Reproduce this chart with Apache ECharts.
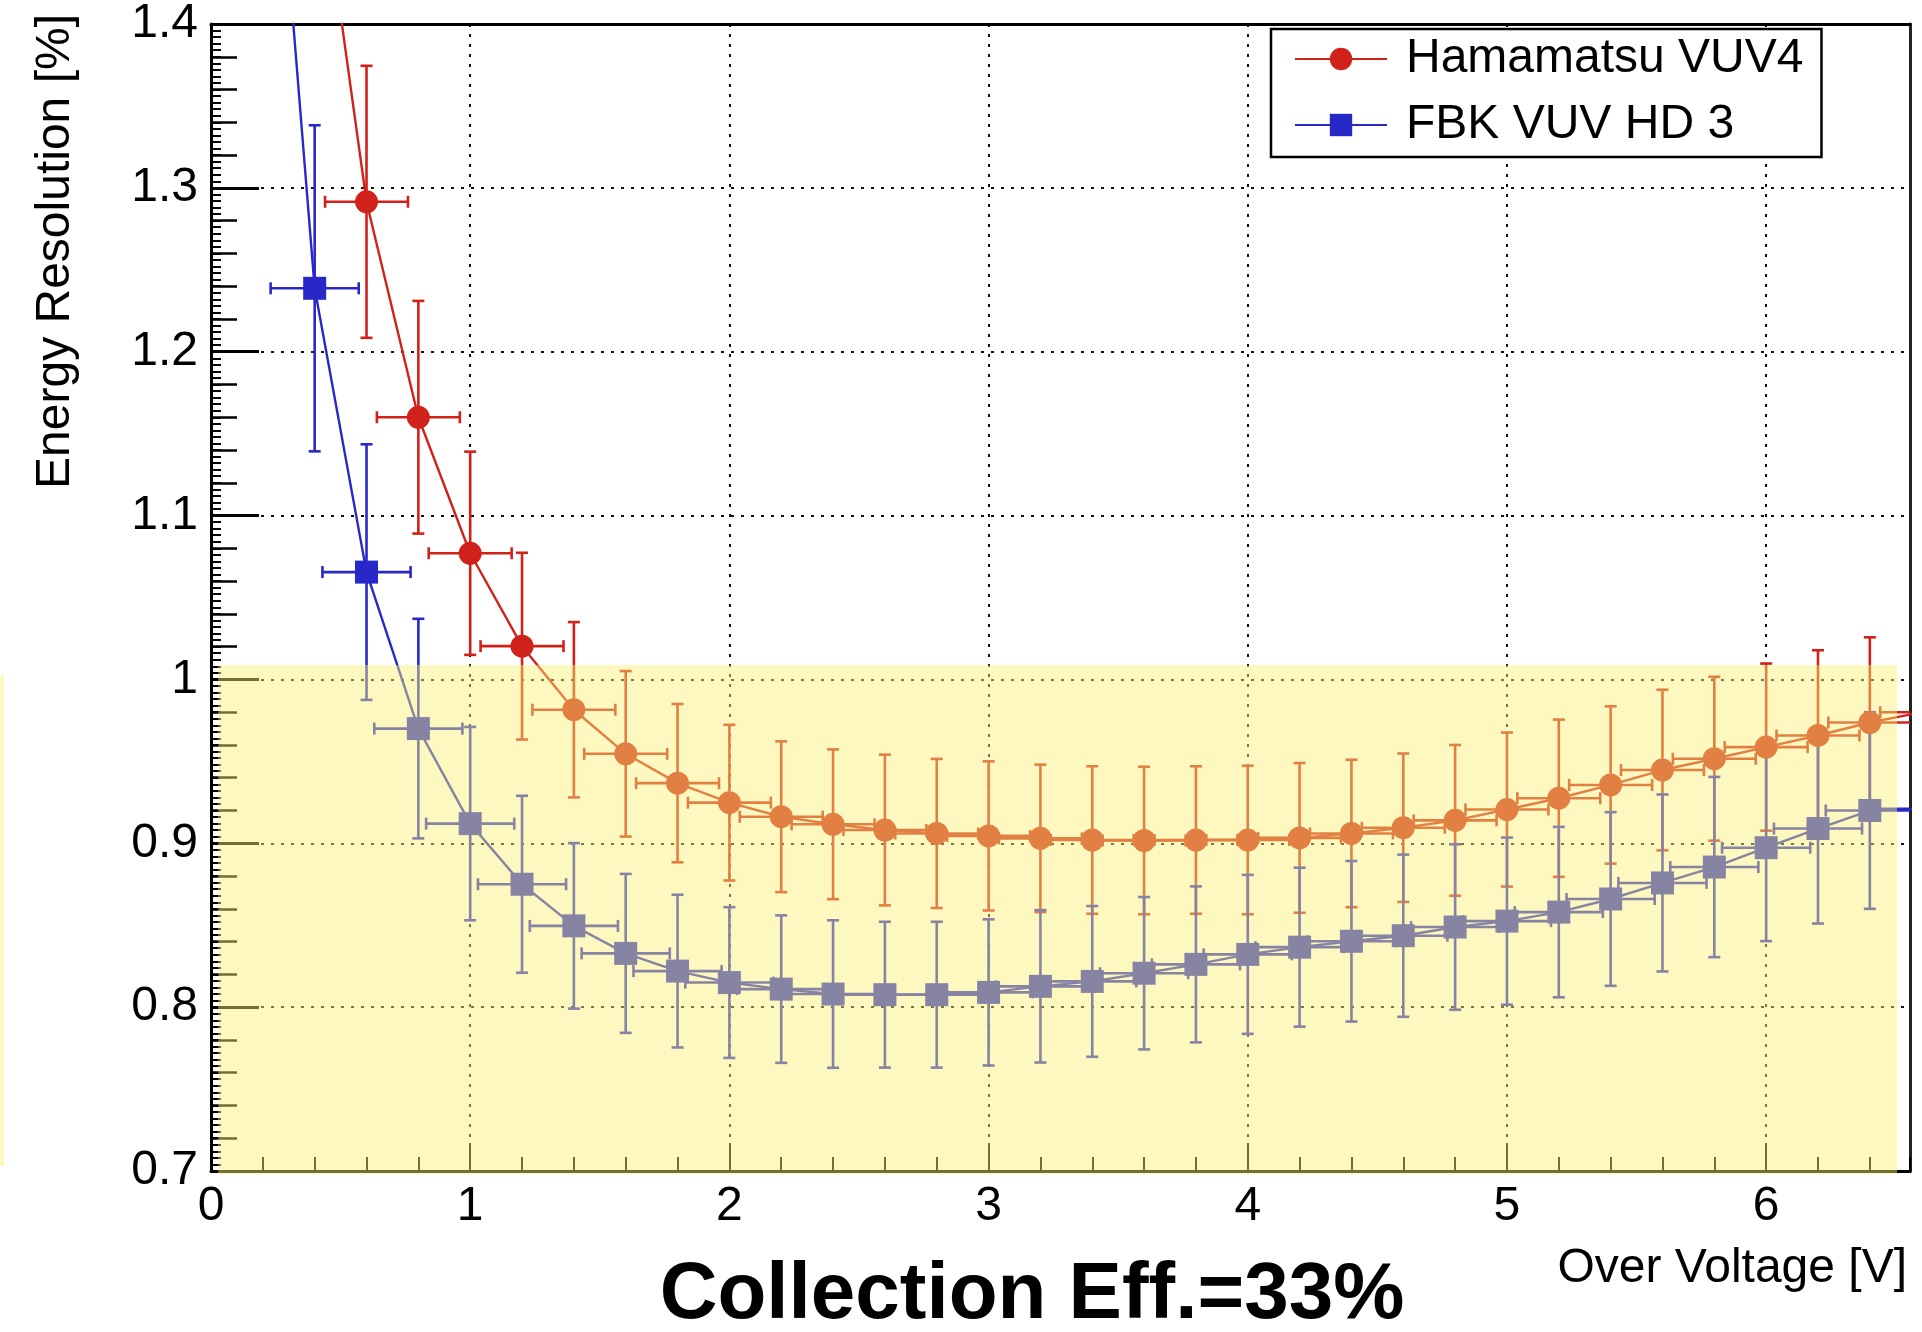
<!DOCTYPE html>
<html><head><meta charset="utf-8">
<script src="https://cdn.jsdelivr.net/npm/echarts@6/dist/echarts.min.js"></script>
<style>html,body{margin:0;padding:0;background:#fff}#c{width:1922px;height:1332px}</style>
</head><body><div id="c"></div>
<script>
// ---- data ----
const hamX = [0.4,0.6,0.8,1.0,1.2,1.4,1.6,1.8,2.0,2.2,2.4,2.6,2.8,3.0,3.2,3.4,3.6,3.8,4.0,4.2,4.4,4.6,4.8,5.0,5.2,5.4,5.6,5.8,6.0,6.2,6.4,6.6];
const hamY = [1.52,1.2915,1.160,1.077,1.0203,0.9815,0.9546,0.9367,0.9248,0.9162,0.9116,0.9081,0.906,0.9045,0.903,0.902,0.9017,0.902,0.902,0.9033,0.906,0.9095,0.914,0.9206,0.9275,0.9356,0.9447,0.9516,0.9587,0.9658,0.9737,0.980];
const hamErr = [0.10,0.083,0.071,0.062,0.057,0.0535,0.0505,0.0483,0.0475,0.046,0.0457,0.046,0.0455,0.0455,0.045,0.045,0.045,0.045,0.0453,0.0457,0.045,0.0453,0.046,0.047,0.048,0.048,0.049,0.050,0.051,0.052,0.052,0.053];
const hamXErr = 0.16;

const fbkX = [0.2,0.4,0.6,0.8,1.0,1.2,1.4,1.6,1.8,2.0,2.2,2.4,2.6,2.8,3.0,3.2,3.4,3.6,3.8,4.0,4.2,4.4,4.6,4.8,5.0,5.2,5.4,5.6,5.8,6.0,6.2,6.4,6.6];
const fbkY = [1.63,1.2387,1.0655,0.970,0.912,0.875,0.8496,0.8328,0.822,0.815,0.811,0.808,0.8076,0.8076,0.809,0.8127,0.8157,0.8207,0.8261,0.8322,0.8366,0.8402,0.8436,0.8489,0.8525,0.858,0.866,0.8758,0.8855,0.8973,0.909,0.920,0.921];
const fbkErr = [0.12,0.0995,0.078,0.067,0.059,0.054,0.0505,0.0485,0.0466,0.046,0.045,0.045,0.0445,0.0445,0.0446,0.0465,0.046,0.0465,0.0476,0.0485,0.0485,0.049,0.0495,0.0505,0.051,0.052,0.053,0.054,0.055,0.057,0.058,0.060,0.061];
const fbkXErr = 0.17;

const seriesNames = ['Hamamatsu VUV4', 'FBK VUV HD 3'];
const xRange = [0, 6.555];
const yRange = [0.7, 1.4];
const highlightX = [0.028, 6.505];
const highlightY = [0.698, 1.0088];
const titleText = 'Collection Eff.=33%';
const xTitle = 'Over Voltage [V]';
const yTitle = 'Energy Resolution [%]';

// ---- styles ----
const RED = '#D0221A', BLUE = '#2828C8';
const OVERLAY = 'rgba(248,240,118,0.46)';
const FONT = '"Liberation Sans", Arial, Helvetica, sans-serif';
const FS = 48;

function pts(xs, ys) { return xs.map((x, i) => [x, ys[i]]); }
function errData(xs, ys, es, xe) { return xs.map((x, i) => [x, ys[i], es[i], xe]); }

function errRender(color) {
  return function (params, api) {
    const x = api.value(0), y = api.value(1), ye = api.value(2), xe = api.value(3);
    const t = api.coord([x, y + ye]);
    const b = api.coord([x, y - ye]);
    const l = api.coord([x - xe, y]);
    const r = api.coord([x + xe, y]);
    const cap = 6;
    const style = { stroke: color, lineWidth: 2.6, fill: null };
    return { type: 'group', children: [
      { type: 'line', shape: { x1: t[0], y1: t[1], x2: b[0], y2: b[1] }, style },
      { type: 'line', shape: { x1: t[0] - cap, y1: t[1], x2: t[0] + cap, y2: t[1] }, style },
      { type: 'line', shape: { x1: b[0] - cap, y1: b[1], x2: b[0] + cap, y2: b[1] }, style },
      { type: 'line', shape: { x1: l[0], y1: l[1], x2: r[0], y2: r[1] }, style },
      { type: 'line', shape: { x1: l[0], y1: l[1] - cap, x2: l[0], y2: l[1] + cap }, style },
      { type: 'line', shape: { x1: r[0], y1: r[1] - cap, x2: r[0], y2: r[1] + cap }, style }
    ]};
  };
}

const gridDots = { show: true, lineStyle: { color: '#111', width: 2, type: [3, 7] } };

const chart = echarts.init(document.getElementById('c'), null, { renderer: 'canvas' });
chart.setOption({
  animation: false,
  backgroundColor: '#fff',
  textStyle: { fontFamily: FONT },
  grid: { left: 211, right: 12, top: 14, bottom: 161, containLabel: false },
  legend: {
    data: seriesNames,
    orient: 'vertical',
    left: 1271, top: 29,
    padding: [6, 18, 8, 23],
    itemGap: 18,
    itemWidth: 92, itemHeight: 28,
    borderColor: '#000', borderWidth: 2.5,
    backgroundColor: '#fff',
    textStyle: { fontSize: FS, color: '#000', fontFamily: FONT, padding: [0, 0, 0, 14] },
    selectedMode: false
  },
  xAxis: [
    { type: 'value', position: 'bottom', min: xRange[0], max: xRange[1], interval: 1,
      axisLine: { show: true, onZero: false, lineStyle: { color: '#000', width: 3 } },
      axisTick: { show: true, inside: true, length: 28, lineStyle: { color: '#000', width: 2 } },
      axisLabel: { show: true, fontSize: FS, color: '#000', margin: 12, fontFamily: FONT, showMaxLabel: false },
      splitLine: gridDots },
    { type: 'value', position: 'bottom', min: xRange[0], max: xRange[1], interval: 0.2,
      axisLine: { show: false, onZero: false },
      axisTick: { show: true, inside: true, length: 14, lineStyle: { color: '#000', width: 2 } },
      axisLabel: { show: false }, splitLine: { show: false } },
    { type: 'value', position: 'top', min: xRange[0], max: xRange[1],
      axisLine: { show: true, onZero: false, lineStyle: { color: '#000', width: 3 } },
      axisTick: { show: false }, axisLabel: { show: false }, splitLine: { show: false } }
  ],
  yAxis: [
    { type: 'value', position: 'left', min: yRange[0], max: yRange[1], interval: 0.1,
      axisLine: { show: true, onZero: false, lineStyle: { color: '#000', width: 3 } },
      axisTick: { show: true, inside: true, length: 48, lineStyle: { color: '#000', width: 3 } },
      minorTick: { show: true, splitNumber: 5, length: 26, lineStyle: { color: '#000', width: 2.5 } },
      axisLabel: { show: true, fontSize: FS, color: '#000', margin: 13, fontFamily: FONT,
        formatter: v => (Math.round(v * 10) / 10).toString() },
      splitLine: gridDots },
    { type: 'value', position: 'left', min: yRange[0], max: yRange[1], interval: 0.004,
      axisLine: { show: false, onZero: false },
      axisTick: { show: true, inside: true, length: 10, lineStyle: { color: '#000', width: 2 } },
      axisLabel: { show: false }, splitLine: { show: false } },
    { type: 'value', position: 'right', min: yRange[0], max: yRange[1],
      axisLine: { show: true, onZero: false, lineStyle: { color: '#222', width: 3 } },
      axisTick: { show: false }, axisLabel: { show: false }, splitLine: { show: false } }
  ],
  series: [
    { name: 'hamErr', type: 'custom', xAxisIndex: 0, yAxisIndex: 0, clip: true, z: 2, silent: true,
      renderItem: errRender(RED), encode: { x: 0, y: 1 },
      data: errData(hamX, hamY, hamErr, hamXErr) },
    { name: 'fbkErr', type: 'custom', xAxisIndex: 0, yAxisIndex: 0, clip: true, z: 2, silent: true,
      renderItem: errRender(BLUE), encode: { x: 0, y: 1 },
      data: errData(fbkX, fbkY, fbkErr, fbkXErr) },
    { name: seriesNames[0], type: 'line', xAxisIndex: 0, yAxisIndex: 0, clip: true, z: 3,
      data: pts(hamX, hamY), symbol: 'circle', symbolSize: 23, showSymbol: true,
      itemStyle: { color: RED }, lineStyle: { color: RED, width: 2.4 } },
    { name: seriesNames[1], type: 'line', xAxisIndex: 0, yAxisIndex: 0, clip: true, z: 3,
      data: pts(fbkX, fbkY), symbol: 'rect', symbolSize: 23, showSymbol: true,
      itemStyle: { color: BLUE }, lineStyle: { color: BLUE, width: 2.4 } },
    { name: 'highlight', type: 'custom', xAxisIndex: 0, yAxisIndex: 0, clip: false, z: 10, silent: true,
      encode: { x: [0, 2], y: [1, 3] },
      data: [[highlightX[0], highlightY[1], highlightX[1], highlightY[0]]],
      renderItem: function (params, api) {
        const p0 = api.coord([api.value(0), api.value(1)]);
        const p1 = api.coord([api.value(2), api.value(3)]);
        return { type: 'rect', shape: { x: p0[0], y: p0[1], width: p1[0] - p0[0], height: p1[1] - p0[1] },
          style: { fill: OVERLAY } };
      } }
  ],
  graphic: [
    { id: 'ytitle', type: 'text', x: 56, y: 14, rotation: Math.PI / 2,
      style: { text: yTitle, font: FS + 'px ' + FONT, fill: '#000', align: 'right', verticalAlign: 'middle' } },
    { id: 'xtitle', type: 'text', x: 1907, y: 1269,
      style: { text: xTitle, font: FS + 'px ' + FONT, fill: '#000', align: 'right', verticalAlign: 'middle' } },
    { id: 'maintitle', type: 'text', x: 1032, y: 1296,
      style: { text: titleText, font: 'bold 80px ' + FONT, fill: '#000', align: 'center', verticalAlign: 'middle' } }
  ]
});

// thin highlight strip at the far left edge of the slide
const yA = chart.convertToPixel({ yAxisIndex: 0 }, 1.003);
const yB = chart.convertToPixel({ yAxisIndex: 0 }, 0.703);
chart.setOption({ graphic: [{ id: 'sliver', type: 'rect', shape: { x: 0, y: yA, width: 4, height: yB - yA }, style: { fill: OVERLAY } }] });
</script></body></html>
